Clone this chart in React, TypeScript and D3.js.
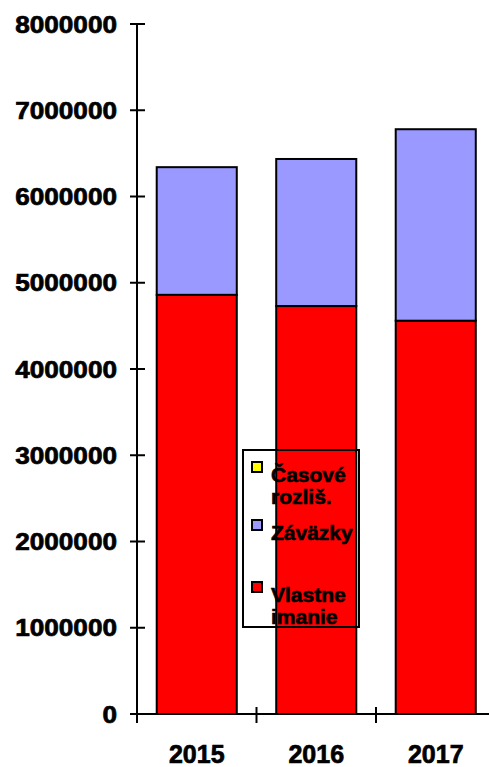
import * as d3 from 'd3';
import React from 'react';

// data
const years = ['2015', '2016', '2017'];
const vlastneImanie = [4860000, 4730000, 4560000];
const zavazky = [1480000, 1705000, 2220000];
const casoveRozlis = [0, 0, 0];
const yTicks = [0, 1000000, 2000000, 3000000, 4000000, 5000000, 6000000, 7000000, 8000000];

const seriesKeys = ['vlastne', 'zavazky', 'casove'];
const colors: Record<string, string> = { vlastne: '#ff0000', zavazky: '#9999ff', casove: '#ffff00' };
const legendItems = [
  { key: 'casove', lines: ['Časové', 'rozliš.'] },
  { key: 'zavazky', lines: ['Záväzky'] },
  { key: 'vlastne', lines: ['Vlastne', 'imanie'] },
];

export default function App() {
  const width = 489, height = 767;
  const font = '"Liberation Sans", Arial, sans-serif';

  const rows = years.map((y, i) => ({ year: y, vlastne: vlastneImanie[i], zavazky: zavazky[i], casove: casoveRozlis[i] }));
  const stacked = d3.stack<any>().keys(seriesKeys)(rows);

  const x = d3.scaleBand().domain(years).range([137, 495.5]).paddingInner(0.33).paddingOuter(0.165);
  const y = d3.scaleLinear().domain([0, 8000000]).range([714, 24]);
  const step = x.step();
  const x0 = x.range()[0];

  const legendY = [474, 532, 594];

  return (
    <svg width={width} height={height} style={{ position: 'absolute', left: 0, top: 0 }}
      fontFamily={font} fontWeight="bold" stroke="none">
      <rect width={width} height={height} fill="#fff" />
      {stacked.map((s) => (
        <g key={s.key}>
          {s.map((d, i) => d[1] - d[0] > 0 && (
            <rect key={i} x={x(years[i])} y={y(d[1])} width={x.bandwidth()} height={y(d[0]) - y(d[1])}
              fill={colors[s.key]} stroke="#000" strokeWidth={2} />
          ))}
        </g>
      ))}
      {/* y axis */}
      <line x1={137} x2={137} y1={y(8000000)} y2={y(0)} stroke="#000" strokeWidth={2} />
      <g stroke="#000" strokeWidth={0.7}>
        {yTicks.map((t) => (
          <g key={t}>
            <line x1={130} x2={145} y1={y(t)} y2={y(t)} stroke="#000" strokeWidth={2} />
            <text transform={`translate(117,${y(t) + 8.5}) scale(1.09,1)`} textAnchor="end" fontSize={24}>{t}</text>
          </g>
        ))}
      </g>
      {/* x axis */}
      <line x1={130} x2={width} y1={y(0)} y2={y(0)} stroke="#000" strokeWidth={2} />
      <g stroke="#000" strokeWidth={0.7}>
        {years.map((yr, i) => (
          <g key={yr}>
            <line x1={x0 + step * i} x2={x0 + step * i} y1={707} y2={723} stroke="#000" strokeWidth={2} />
            <text x={(x(yr) as number) + x.bandwidth() / 2} y={763} textAnchor="middle" fontSize={25}>{yr}</text>
          </g>
        ))}
      </g>
      {/* legend */}
      <rect x={243} y={450} width={116} height={177} fill="none" stroke="#000" strokeWidth={2} />
      {legendItems.map((it, i) => (
        <g key={it.key}>
          <rect x={252} y={legendY[i] - 12} width={10} height={10} fill={colors[it.key]} stroke="#000" strokeWidth={2} />
          {it.lines.map((ln, j) => (
            <text key={j} x={271} y={legendY[i] + 8 + j * 22} fontSize={21} stroke="#000" strokeWidth={0.6}>{ln}</text>
          ))}
        </g>
      ))}
    </svg>
  );
}
